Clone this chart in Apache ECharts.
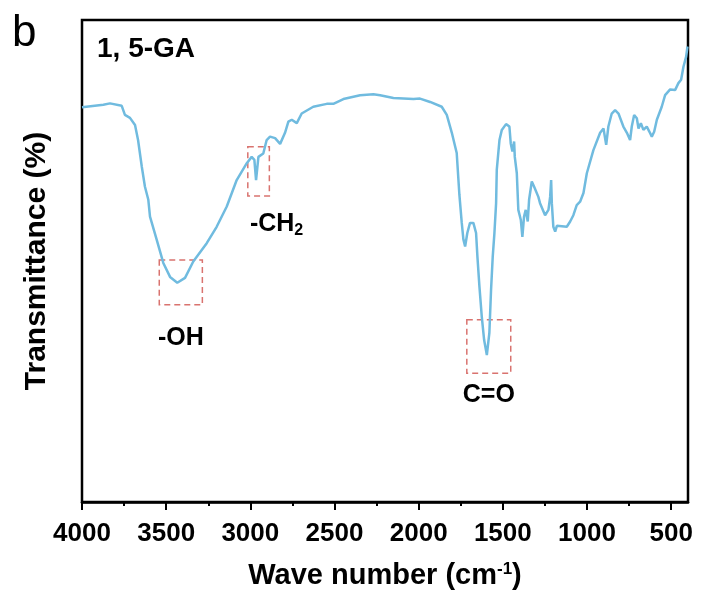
<!DOCTYPE html>
<html>
<head>
<meta charset="utf-8">
<script src="https://cdn.jsdelivr.net/npm/echarts@6/dist/echarts.min.js"></script>
<style>
  html, body { margin: 0; padding: 0; background: #fff; }
  #ftir { width: 702px; height: 596px; }
</style>
</head>
<body>
<div id="ftir"></div>
<script>
// wave numbers (cm-1)
const waveNumbers = [4000, 3873, 3834, 3764, 3745, 3715, 3685, 3667, 3645, 3626, 3606, 3596, 3556, 3517, 3477, 3434, 3388, 3339, 3259, 3200, 3140, 3081, 3021, 2992, 2976, 2966, 2952, 2923, 2903, 2883, 2853, 2823, 2794, 2774, 2754, 2724, 2695, 2626, 2546, 2507, 2447, 2348, 2269, 2229, 2150, 2031, 1992, 1932, 1863, 1833, 1803, 1774, 1758, 1744, 1734, 1724, 1711, 1695, 1675, 1659, 1651, 1639, 1625, 1611, 1595, 1580, 1570, 1560, 1550, 1540, 1536, 1520, 1506, 1481, 1461, 1453, 1443, 1433, 1429, 1417, 1408, 1393, 1384, 1374, 1364, 1352, 1344, 1328, 1314, 1289, 1279, 1249, 1229, 1219, 1213, 1209, 1200, 1189, 1179, 1120, 1100, 1081, 1061, 1041, 1021, 1001, 962, 922, 902, 886, 873, 853, 833, 813, 784, 763, 744, 734, 720, 704, 694, 680, 665, 645, 629, 615, 601, 585, 556, 536, 506, 476, 457, 441, 427, 411, 403]
// transmittance, arbitrary units (0-100)
const transmittance = [81.9, 82.4, 82.7, 82.2, 80.3, 79.7, 78.2, 75.1, 69.6, 65.4, 62.7, 59.2, 54.4, 49.6, 46.7, 45.5, 46.5, 49.9, 53.7, 57.1, 61.3, 66.8, 70.3, 71.6, 71.0, 66.8, 71.6, 72.3, 75.1, 75.8, 75.5, 74.3, 76.6, 78.9, 79.3, 78.6, 80.6, 82.0, 82.6, 82.6, 83.6, 84.4, 84.6, 84.4, 83.8, 83.6, 83.7, 83.0, 82.0, 80.3, 76.6, 72.4, 63.7, 57.9, 54.4, 53.0, 55.8, 57.9, 57.9, 55.8, 50.9, 44.7, 38.4, 33.6, 30.5, 35.1, 44.0, 50.9, 55.8, 62.0, 68.9, 75.1, 77.2, 78.4, 77.9, 74.4, 72.7, 74.8, 71.6, 68.2, 60.6, 58.5, 55.0, 59.2, 60.6, 58.2, 62.7, 66.5, 65.4, 63.3, 62.0, 59.5, 60.6, 63.3, 66.8, 62.0, 57.1, 56.1, 57.3, 57.1, 58.2, 59.5, 61.6, 62.3, 64.1, 68.2, 73.0, 76.6, 77.5, 74.1, 77.9, 80.6, 81.3, 80.6, 77.9, 76.6, 75.1, 77.9, 80.3, 79.6, 77.5, 78.6, 77.2, 77.9, 76.8, 75.8, 76.8, 79.3, 82.0, 84.4, 85.6, 85.5, 86.9, 87.6, 90.3, 92.4, 94.5]
const majorTicks = [4000, 3500, 3000, 2500, 2000, 1500, 1000, 500]
const minorTicks = [3750, 3250, 2750, 2250, 1750, 1250, 750]
// marked bands: [from, to] in cm-1 and [low, high] transmittance
const bandNames = ['-OH', '-CH{sub|2}', 'C=O']
const bandX = [[3541, 3285], [3015, 2887], [1714, 1453]]
const bandY = [[40.9, 50.2], [63.5, 73.7], [26.7, 37.8]]

const chart = echarts.init(document.getElementById('ftir'))
const font = 'Arial, "Liberation Sans", sans-serif'
const labelDist = [20, 12, 9]
const labelOffset = [0, 18, 0]

const option = {
  animation: false,
  grid: {
    left: 82,
    right: 14,
    top: 20,
    bottom: 94,
    show: true,
    borderColor: '#000',
    borderWidth: 2.5
  },
  xAxis: [
    {
      type: 'value',
      min: 400,
      max: 4000,
      inverse: true,
      name: 'Wave number (cm{sup|-1})',
      nameLocation: 'middle',
      nameGap: 59,
      nameTextStyle: {
        fontFamily: font,
        fontWeight: 'bold',
        fontSize: 29,
        color: '#000',
        rich: {
          sup: { fontFamily: font, fontWeight: 'bold', fontSize: 17, color: '#000', verticalAlign: 'top', padding: [0, 0, 12, 0] }
        }
      },
      axisLine: { show: true, lineStyle: { color: '#000', width: 2.5 } },
      axisTick: { show: true, customValues: majorTicks, length: 8, lineStyle: { color: '#000', width: 2 } },
      axisLabel: {
        customValues: majorTicks,
        formatter: v => String(v),
        margin: 19,
        fontFamily: font,
        fontWeight: 'bold',
        fontSize: 26,
        color: '#000'
      },
      splitLine: { show: false }
    },
    {
      // minor ticks only
      type: 'value',
      min: 400,
      max: 4000,
      inverse: true,
      position: 'bottom',
      axisLine: { show: false },
      axisTick: { show: true, customValues: minorTicks, length: 4, lineStyle: { color: '#000', width: 2 } },
      axisLabel: { show: false },
      splitLine: { show: false }
    }
  ],
  yAxis: {
    type: 'value',
    min: 0,
    max: 100,
    name: 'Transmittance (%)',
    nameLocation: 'middle',
    nameGap: 30,
    nameTextStyle: { fontFamily: font, fontWeight: 'bold', fontSize: 30, color: '#000' },
    axisLine: { show: false },
    axisTick: { show: false },
    axisLabel: { show: false },
    splitLine: { show: false }
  },
  graphic: [
    { type: 'text', left: 12, top: 12, style: { text: 'b', font: '44px ' + font, fill: '#000' } },
    { type: 'text', left: 97, top: 35, style: { text: '1, 5-GA', font: 'bold 28px ' + font, fill: '#000' } }
  ],
  series: [
    {
      type: 'line',
      data: waveNumbers.map((w, i) => [w, transmittance[i]]),
      showSymbol: false,
      lineStyle: { color: '#70bbdf', width: 2.5 },
      markArea: {
        silent: true,
        itemStyle: { color: 'rgba(0,0,0,0)', borderColor: '#d9736f', borderWidth: 1.5, borderType: [6, 4] },
        label: {
          position: 'bottom',
          fontFamily: font,
          fontWeight: 'bold',
          fontSize: 25,
          color: '#000',
          rich: {
            sub: { fontFamily: font, fontWeight: 'bold', fontSize: 16, color: '#000', verticalAlign: 'bottom', padding: [14, 0, 0, 0] }
          }
        },
        data: bandNames.map((name, i) => [
          {
            name: name,
            xAxis: bandX[i][0],
            yAxis: bandY[i][1],
            label: { distance: labelDist[i], offset: [labelOffset[i], 0] }
          },
          { xAxis: bandX[i][1], yAxis: bandY[i][0] }
        ])
      }
    }
  ]
}

chart.setOption(option)
</script>
</body>
</html>
